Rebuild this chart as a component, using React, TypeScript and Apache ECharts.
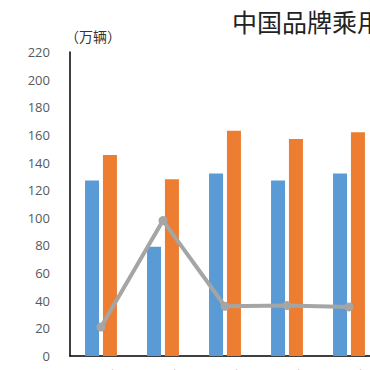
import React, { useEffect, useRef } from "react";
import * as echarts from "echarts";

const categories = ["2014年", "2015年", "2016年", "2017年", "2018年"];
const blueValues = [127, 79, 132, 127, 132];
const orangeValues = [145.5, 128, 163, 157, 162];
const lineValues = [21, 98, 36, 36.5, 35.5];
const yTicks = { min: 0, max: 220, interval: 20 };
const titleText = "中国品牌乘用车销量及份额";
const unitText = "（万辆）";

export default function App() {
  const ref = useRef<HTMLDivElement>(null);
  useEffect(() => {
    if (!ref.current) return;
    const chart = echarts.init(ref.current, null, { renderer: "svg" });
    chart.setOption({
      animation: false,
      backgroundColor: "#fff",
      title: {
        text: titleText,
        left: 227,
        top: 3,
        textStyle: {
          fontFamily: "Noto Sans CJK SC",
          fontSize: 25,
          fontWeight: "normal",
          color: "#222",
        },
      },
      graphic: [
        {
          type: "text",
          left: 65,
          top: 29,
          style: {
            text: unitText,
            fontFamily: "Noto Sans CJK SC",
            fontSize: 14,
            fill: "#333",
          },
        },
      ],
      grid: {
        left: 70,
        top: 52,
        right: -10,
        bottom: 14,
        containLabel: false,
        outerBoundsMode: "none",
      },
      xAxis: {
        type: "category",
        data: categories,
        axisLine: { show: true, lineStyle: { color: "#000", width: 1.5 } },
        axisTick: { show: false },
        axisLabel: {
          margin: 12,
          fontSize: 12,
          color: "#999",
          fontFamily: "Noto Sans",
        },
      },
      yAxis: {
        type: "value",
        min: yTicks.min,
        max: yTicks.max,
        interval: yTicks.interval,
        axisLine: { show: true, lineStyle: { color: "#000", width: 1.5 } },
        axisTick: { show: false },
        splitLine: { show: false },
        axisLabel: {
          margin: 20,
          fontSize: 13,
          color: "#595959",
          fontFamily: "Open Sans",
        },
      },
      series: [
        {
          type: "bar",
          data: blueValues,
          barWidth: 14,
          barGap: "28%",
          itemStyle: { color: "#5B9BD5" },
        },
        {
          type: "bar",
          data: orangeValues,
          barWidth: 14,
          itemStyle: { color: "#ED7D31" },
        },
        {
          type: "line",
          data: lineValues,
          symbol: "circle",
          symbolSize: 9,
          lineStyle: { color: "#A5A5A5", width: 4 },
          itemStyle: { color: "#A5A5A5" },
        },
      ],
    });
    return () => chart.dispose();
  }, []);
  return (
    <div
      ref={ref}
      style={{ position: "fixed", left: 0, top: 0, width: 370, height: 370 }}
    />
  );
}
